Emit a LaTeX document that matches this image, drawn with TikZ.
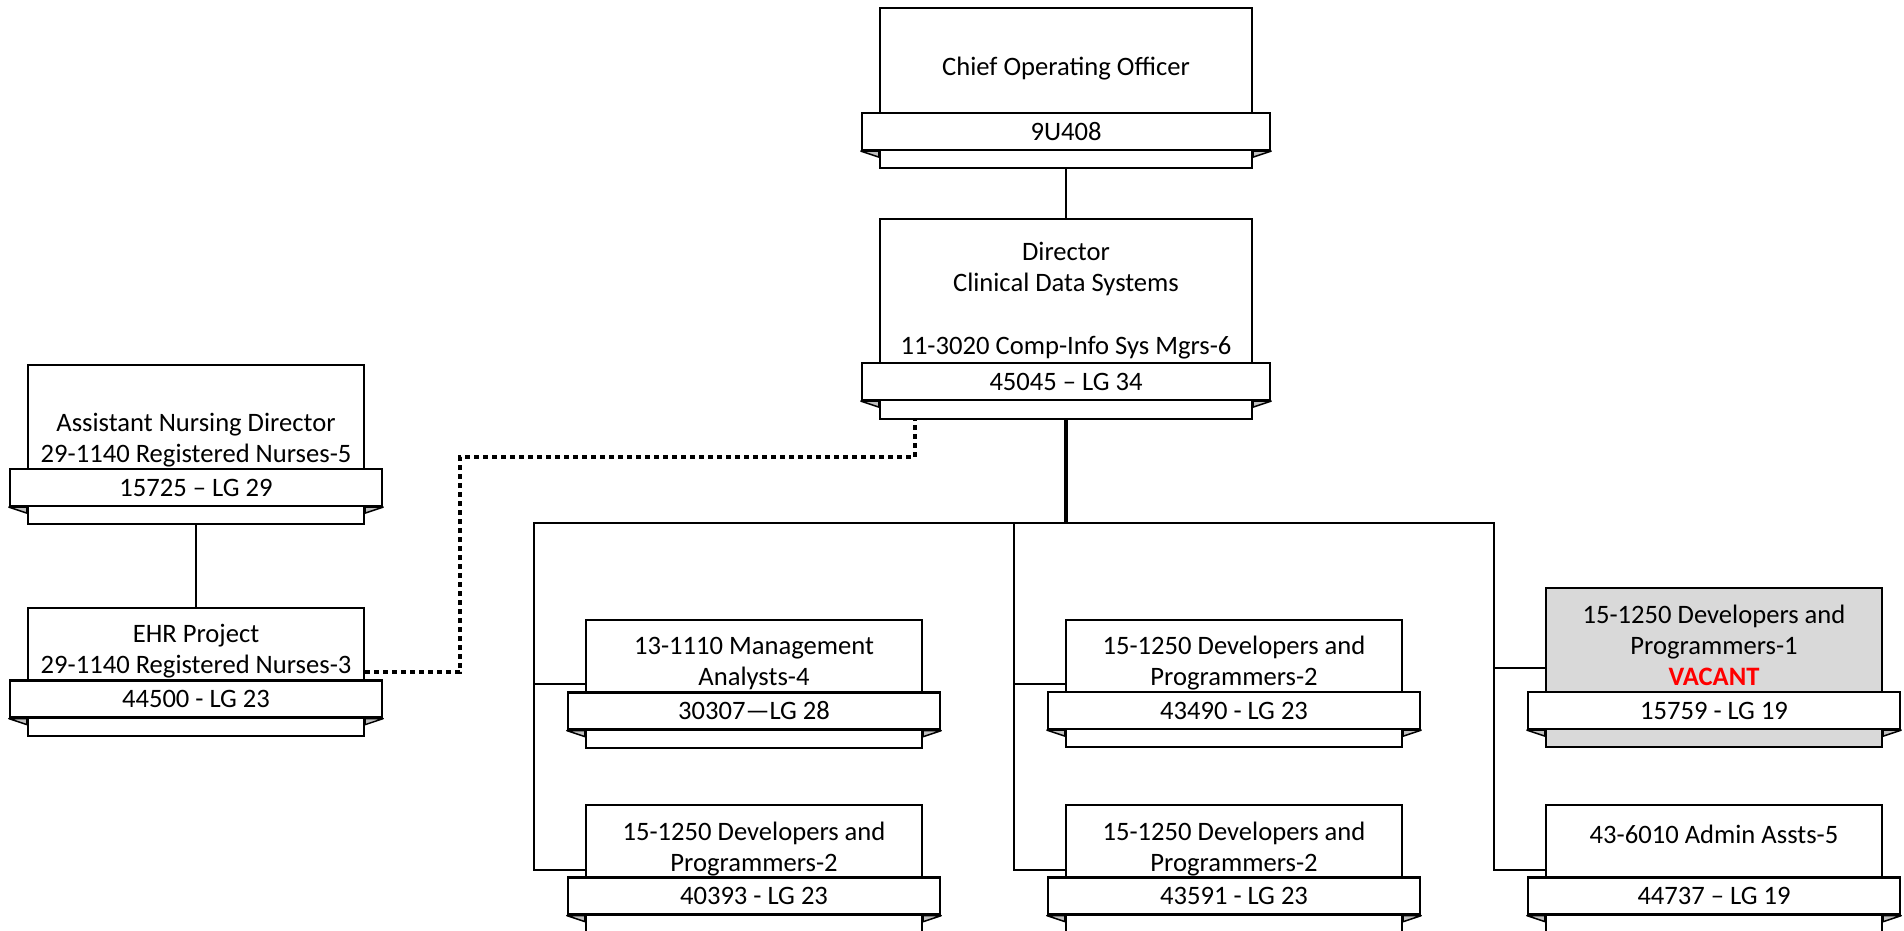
\documentclass[tikz,border=0pt]{standalone}
\usepackage{fontspec}
\setmainfont{Carlito}

\definecolor{vacgray}{HTML}{D9D9D9}
\definecolor{tabgray}{HTML}{BFBFBF}
\definecolor{vacred}{HTML}{FF0000}

\tikzset{
  posbox/.style={draw, line width=2.3pt, fill=white, inner sep=0pt},
  codeband/.style={draw, line width=2.3pt, fill=white, minimum height=37pt, inner sep=0pt},
  foldtab/.style={draw, line width=1.5pt, fill=tabgray, line join=round},
  boxtext/.style={align=center, inner sep=0pt},
  link/.style={line width=2.3pt},
  trunk/.style={line width=3.2pt},
  dotline/.style={line width=3.5pt, dash pattern=on 5pt off 4pt}
}

\begin{document}
\begin{tikzpicture}[x=1pt,y=-1pt,font=\fontsize{26.6}{31}\selectfont]
\useasboundingbox (0,0) rectangle (1904,931);
\clip (0,0) rectangle (1904,931);

% boxes
\node[posbox, minimum width=372pt, minimum height=160pt, anchor=north] (coo) at (1066,7) {};
\node[posbox, minimum width=372pt, minimum height=200pt, anchor=north] (dir) at (1066,218) {};
\node[posbox, minimum width=336pt, minimum height=159pt, anchor=north] (asst) at (196,364) {};
\node[posbox, minimum width=336pt, minimum height=128pt, anchor=north] (ehr) at (196,607) {};
\node[posbox, minimum width=336pt, minimum height=128pt, anchor=north] (mgmt) at (754,619) {};
\node[posbox, minimum width=336pt, minimum height=127pt, anchor=north] (devA) at (1234,619) {};
\node[posbox, fill=vacgray, minimum width=336pt, minimum height=159pt, anchor=north] (vac) at (1714,587) {};
\node[posbox, minimum width=336pt, minimum height=129pt, anchor=north] (devB) at (754,804) {};
\node[posbox, minimum width=336pt, minimum height=129pt, anchor=north] (devC) at (1234,804) {};
\node[posbox, minimum width=336pt, minimum height=129pt, anchor=north] (adm) at (1714,804) {};

% titles
\node[boxtext] (cooT) at (1066,69) {Chief Operating Officer};
\node[boxtext] (dirT) at (1066,301) {Director\\Clinical Data Systems\\[32pt]11-3020 Comp-Info Sys Mgrs-6};
\node[boxtext] (asstT) at (196,440) {Assistant Nursing Director\\29-1140 Registered Nurses-5};
\node[boxtext] (ehrT) at (196,651) {EHR Project\\29-1140 Registered Nurses-3};
\node[boxtext] (mgmtT) at (754,664) {13-1110 Management\\Analysts-4};
\node[boxtext] (devAT) at (1234,663) {15-1250 Developers and\\Programmers-2};
\node[boxtext] (vacT) at (1714,645) {15-1250 Developers and\\Programmers-1\\{\color{vacred}\bfseries VACANT}};
\node[boxtext] (devBT) at (754,849) {15-1250 Developers and\\Programmers-2};
\node[boxtext] (devCT) at (1234,849) {15-1250 Developers and\\Programmers-2};
\node[boxtext] (admT) at (1714,834) {43-6010 Admin Assts-5};

% position numbers
\node[codeband, minimum width=408pt] (cooband) at (1066,131.5) {9U408};
\node[codeband, minimum width=408pt] (dirband) at (1066,381.5) {45045 – LG 34};
\node[codeband, minimum width=372pt] (asstband) at (196,487.5) {15725 – LG 29};
\node[codeband, minimum width=372pt] (ehrband) at (196,699) {44500 - LG 23};
\node[codeband, minimum width=372pt] (mgmtband) at (754,711) {30307—LG 28};
\node[codeband, minimum width=372pt] (devAband) at (1234,710.5) {43490 - LG 23};
\node[codeband, minimum width=372pt] (vacband) at (1714,710.5) {15759 - LG 19};
\node[codeband, minimum width=372pt] (devBband) at (754,896) {40393 - LG 23};
\node[codeband, minimum width=372pt] (devCband) at (1234,896) {43591 - LG 23};
\node[codeband, minimum width=372pt] (admband) at (1714,896) {44737 – LG 19};

% folded ends of the bands
\foreach \n in {coo,dir,asst,ehr,mgmt,devA,vac,devB,devC,adm} {
  \filldraw[foldtab] (\n band.south west) -- (\n.west |- \n band.south) -- ++(0,6) -- cycle;
  \filldraw[foldtab] (\n band.south east) -- (\n.east |- \n band.south) -- ++(0,6) -- cycle;
}

% lines
\coordinate (bus) at (1066,523);
\coordinate (busL) at (534,523);
\coordinate (busM) at (1014,523);
\coordinate (busR) at (1494,523);
\coordinate (dirdot) at ([xshift=36pt]dir.south west);

\draw[link] (coo.south) -- (dir.north);
\draw[trunk] (dir.south) -- (bus);
\draw[link] (mgmt.west) -| (busL) -- (busR) |- (vac.west);
\draw[link] (busL) |- (devB.west);
\draw[link] (busM) |- (devA.west);
\draw[link] (busM) |- (devC.west);
\draw[link] (busR) |- (adm.west);
\draw[link] (asst.south) -- (ehr.north);
\draw[dotline] (ehr.east) -| (460,457) -| (dirdot);
\end{tikzpicture}
\end{document}
